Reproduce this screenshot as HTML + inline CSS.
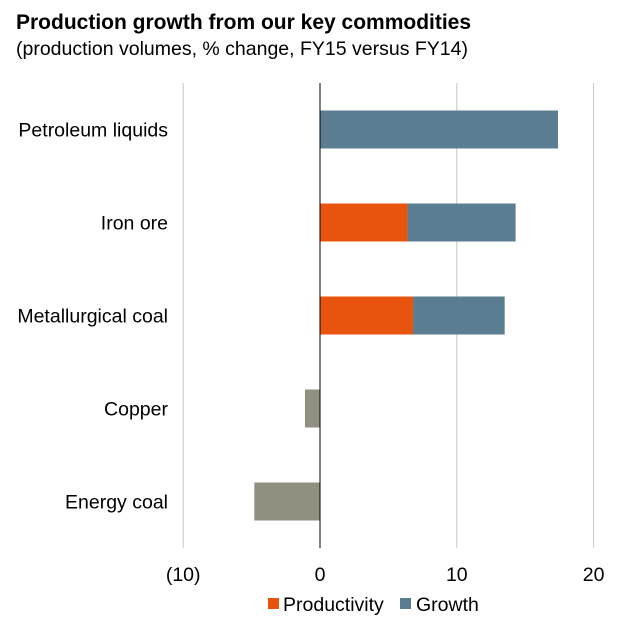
<!DOCTYPE html>
<html><head><meta charset="utf-8"><style>
body{margin:0;background:#fff;font-family:"Liberation Sans",Arial,sans-serif}
</style></head><body>
<svg width="641" height="635" style="display:block">
<text x="16" y="29" font-size="21" font-weight="bold" fill="#000">Production growth from our key commodities</text>
<text x="16" y="55" font-size="19.5" fill="#000">(production volumes, % change, FY15 versus FY14)</text>
<g id="grid"></g><g id="bars"></g><g id="axis0"></g><g id="labels"></g>
<g>
<rect x="268" y="598" width="11" height="11" fill="#e8530e"/>
<text x="283" y="611" font-size="19.5">Productivity</text>
<rect x="400" y="598" width="11" height="11" fill="#5a7d92"/>
<text x="416" y="611" font-size="19.5">Growth</text>
</g>
</svg>
<script>
const categories=["Petroleum liquids","Iron ore","Metallurgical coal","Copper","Energy coal"];
const productivity=[0,6.4,6.8,0,0];
const growth=[17.4,7.9,6.7,0,0];
const declines=[0,0,0,-1.1,-4.8];
const ticks=[-10,0,10,20];
const tickLabels=["(10)","0","10","20"];
const NS="http://www.w3.org/2000/svg";
const xs=v=>320+v*13.68;
const yTop=83,yBot=548,band=(yBot-yTop)/categories.length;
const yc=i=>yTop+band*(i+0.5);
const bh=38;
function mk(t,a,p){const e=document.createElementNS(NS,t);for(const k in a)e.setAttribute(k,a[k]);p.appendChild(e);return e;}
const G=document.getElementById('grid'),B=document.getElementById('bars'),A=document.getElementById('axis0'),L=document.getElementById('labels');
ticks.forEach((t,i)=>{
 const l=mk('line',{x1:xs(t),x2:xs(t),y1:yTop,y2:yBot,stroke:t===0?'#000':'#c8c8c8','stroke-width':1},t===0?A:G);
 
 
 const tx=mk('text',{x:xs(t),y:581,'font-size':19.5,'text-anchor':'middle'},L);
 tx.textContent=tickLabels[i];
 
 
});
categories.forEach((c,i)=>{
 const y=yc(i)-bh/2;
 const tx=mk('text',{x:168,y:yc(i)+7,'font-size':19.5,'text-anchor':'end'},L);
 tx.textContent=c;
 
 
 if(productivity[i]>0){const r=mk('rect',{x:xs(0),y:y,width:xs(productivity[i])-xs(0),height:bh,fill:'#e8530e'},B);
  
  }
 if(growth[i]>0){const s=productivity[i];const r=mk('rect',{x:xs(s),y:y,width:xs(s+growth[i])-xs(s),height:bh,fill:'#5a7d92'},B);
  
  }
 if(declines[i]<0){const r=mk('rect',{x:xs(declines[i]),y:y,width:xs(0)-xs(declines[i]),height:bh,fill:'#918f7f'},B);
  
  }
});
</script>
</body></html>
